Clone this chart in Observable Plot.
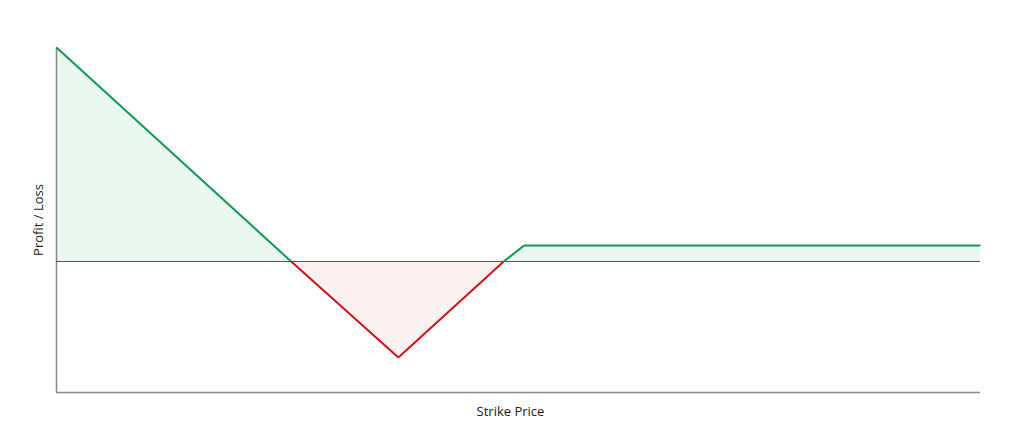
<!DOCTYPE html>
<html><head><meta charset="utf-8">
<script src="https://cdn.jsdelivr.net/npm/d3@7"></script>
<script src="https://cdn.jsdelivr.net/npm/@observablehq/plot@0.6"></script>
<style>body{margin:0;background:#fff;font-family:"Open Sans",sans-serif;}</style>
</head><body><div id="chart"></div>
<script>
const strikes = [0, 25.4, 37.0, 48.4, 50.6, 100];
const profits = [10.7, 0, -4.8, 0, 0.8, 0.8];
const yMin = -6.55;
const xLabel = "Strike Price";
const yLabel = "Profit / Loss";

const pts = strikes.map((x, i) => ({x, y: profits[i]}));
const segs = pts.slice(1).map((p, i) => ({x1: pts[i].x, y1: pts[i].y, x2: p.x, y2: p.y,
  neg: (pts[i].y < 0 || p.y < 0)}));

const chart = Plot.plot({
  width: 1024, height: 440,
  marginLeft: 56, marginRight: 44, marginTop: 47, marginBottom: 48,
  x: {domain: [0, 100], axis: null},
  y: {domain: [yMin, Math.max(...profits)], axis: null},
  style: {fontFamily: "'Open Sans', sans-serif", fontSize: "13px", color: "#222"},
  marks: [
    Plot.areaY(pts, {x: "x", y1: 0, y2: d => Math.max(d.y, 0), fill: "#ebf7f1", curve: "linear"}),
    Plot.areaY(pts, {x: "x", y1: 0, y2: d => Math.min(d.y, 0), fill: "#fcf1f1", curve: "linear"}),
    Plot.ruleX([0], {y1: yMin, y2: Math.max(...profits), stroke: "#888", strokeWidth: 1.5}),
    Plot.ruleY([yMin], {stroke: "#888", strokeWidth: 1.5}),
    Plot.ruleY([0], {stroke: "#555", strokeWidth: 1}),
    Plot.link(segs, {x1: "x1", y1: "y1", x2: "x2", y2: "y2",
      stroke: d => d.neg ? "#d0101a" : "#0e9a52", strokeWidth: 2}),
    Plot.text([xLabel], {frameAnchor: "bottom", dy: 19, dx: -8, text: d => d, fontSize: 13, fill: "#222", textAnchor: "middle", lineAnchor: "middle"}),
    Plot.text([yLabel], {frameAnchor: "left", dx: -18, rotate: -90, text: d => d, fontSize: 13, fill: "#222", textAnchor: "middle"})
  ]
});
document.getElementById("chart").appendChild(chart);
</script></body></html>
